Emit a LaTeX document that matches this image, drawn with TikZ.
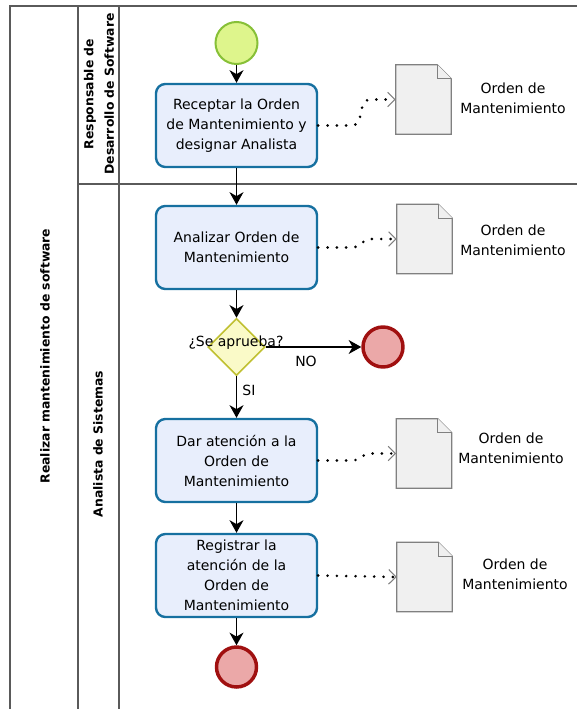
\documentclass[tikz,border=0pt]{standalone}
\usepackage{fontspec}
\setmainfont{DejaVu Sans}
\usetikzlibrary{shapes.geometric, arrows.meta, calc}
\definecolor{taskfill}{RGB}{232,238,252}
\definecolor{taskline}{RGB}{22,112,160}
\definecolor{startfill}{RGB}{222,245,140}
\definecolor{startline}{RGB}{135,192,55}
\definecolor{endfill}{RGB}{235,168,168}
\definecolor{endline}{RGB}{160,16,16}
\definecolor{gwfill}{RGB}{250,250,200}
\definecolor{gwline}{RGB}{192,192,50}
\definecolor{docfill}{RGB}{240,240,240}
\definecolor{docgray}{RGB}{128,128,128}
\definecolor{lanegray}{RGB}{90,90,90}

\begin{document}
\begin{tikzpicture}[x=0.75pt,y=0.75pt,yscale=-1,xscale=1,
  font=\fontsize{10.5}{15}\selectfont,
  task/.style={draw=taskline, line width=1.8pt, fill=taskfill, rounded corners=7pt,
    minimum width=120.75pt, minimum height=62.25pt, align=center, inner sep=1pt},
  startev/.style={circle, draw=startline, line width=1.5pt, fill=startfill, minimum size=31.5pt, inner sep=0pt},
  endev/.style={circle, draw=endline, line width=2.6pt, fill=endfill, minimum size=30pt, inner sep=0pt},
  gateway/.style={diamond, draw=gwline, line width=1.2pt, fill=gwfill, minimum size=42.75pt, inner sep=0pt},
  docbox/.style={minimum width=41.25pt, minimum height=51.75pt, inner sep=0pt},
  docline/.style={draw=docgray, fill=docfill, line width=0.8pt},
  doclabel/.style={align=center},
  lanelabel/.style={rotate=90, align=center, font=\fontsize{9.3}{15.5}\selectfont\bfseries},
  lanes/.style={draw=lanegray, line width=1pt},
  flow/.style={-{Stealth[length=9.5pt,width=10.5pt,inset=3pt]}, line width=0.9pt},
  assoc/.style={-{Straight Barb[length=5.5pt,width=11pt,color=docgray,line width=0.8pt]},
    line width=2.2pt, line cap=round, dash pattern=on 0pt off 7pt}
]
\useasboundingbox (0,0) rectangle (577,709);

%Pool and lanes
\draw[lanes] (577,6) -- (10,6) -- (10,709);
\draw[lanes] (78,6) -- (78,709);
\draw[lanes] (119,6) -- (119,709);
\draw[lanes] (78,184) -- (577,184);

% Lane labels
\node[lanelabel] (pool) at (45,356) {Realizar mantenimiento de software};
\node[lanelabel] (lane1) at (99,94) {Responsable de\\Desarrollo de Software};
\node[lanelabel] (lane2) at (98,444) {Analista de Sistemas};

% Events, tasks and gateway
\node[startev] (start) at (236.5,43) {};
\node[task] (task1) at (236.5,125.5) {Receptar la Orden\\de Mantenimiento y\\designar Analista};
\node[task] (task2) at (236.5,247.5) {Analizar Orden de\\Mantenimiento};
\node[gateway] (gw) at (236.5,347) {};
\node (gwlabel) at (236,343) {¿Se aprueba?};
\node[endev] (end1) at (383,347) {};
\node[task] (task3) at (236.5,460.5) {Dar atención a la\\Orden de\\Mantenimiento};
\node[task] (task4) at (236.5,575.5) {Registrar la\\atención de la\\Orden de\\Mantenimiento};
\node[endev] (end2) at (236.5,667) {};

% Data objects
\node[docbox] (doc1) at (423.5,99.5) {};
\node[docbox] (doc2) at (424.5,239) {};
\node[docbox] (doc3) at (424,453.5) {};
\node[docbox] (doc4) at (424.5,577) {};
\foreach \d in {doc1,doc2,doc3,doc4} {
  \draw[docline] (\d.south west) -- (\d.north west) -- ($(\d.north east)+(-14,0)$)
    -- ($(\d.north east)+(0,14)$) -- (\d.south east) -- cycle;
  \draw[docline] ($(\d.north east)+(-14,0)$) -- ($(\d.north east)+(-14,14)$) -- ($(\d.north east)+(0,14)$);
}
\node[doclabel] (lab1) at (513,98) {Orden de\\Mantenimiento};
\node[doclabel] (lab2) at (513,240) {Orden de\\Mantenimiento};
\node[doclabel] (lab3) at (511,448) {Orden de\\Mantenimiento};
\node[doclabel] (lab4) at (515,574) {Orden de\\Mantenimiento};

% Sequence flows
\draw[flow] (start) -- (task1);
\draw[flow] (task1) -- (task2);
\draw[flow] (task2) -- (gw);
\draw[flow] (gw.east) -- (end1);
\draw[flow] (gw) -- (task3);
\draw[flow] (task3) -- (task4);
\draw[flow] (task4) -- (end2);
\node (no) at (306,361) {NO};
\node (si) at (249,390) {SI};

% Associations
\foreach \t/\d in {task1/doc1,task2/doc2,task3/doc3}
  \draw[assoc] (\t.east) -- ++(34,0) to[out=0,in=180] ($(\d.west)+(-26,0)$) -- (\d.west);
\draw[assoc] (task4.east) -- (doc4.west);

\end{tikzpicture}
\end{document}
